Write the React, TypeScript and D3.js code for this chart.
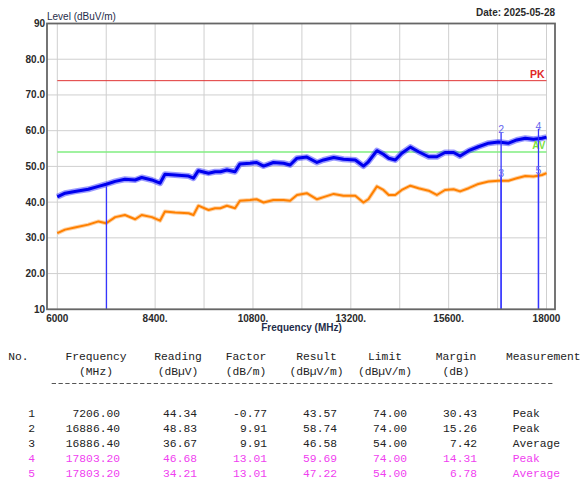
import React from 'react';
import * as d3 from 'd3';

// trace samples (MHz / dBuV/m)
const freqs = [6000, 6190, 6430, 6760, 7010, 7200, 7420, 7660, 7910, 8070, 8320, 8520, 8640, 8890, 9220, 9340, 9460, 9710, 9870, 10000,
  10160, 10360, 10480, 10730, 10890, 11060, 11300, 11550, 11710, 11880, 12120, 12370, 12530, 12780, 13020, 13310, 13510, 13630, 13840, 14000,
  14130, 14290, 14450, 14660, 14860, 15110, 15310, 15510, 15720, 15880, 16090, 16330, 16580, 16820, 17070, 17270, 17480, 17680, 17890, 18000];
const peakTrace = [41.5, 42.5, 43.0, 43.6, 44.4, 45.0, 45.8, 46.4, 46.2, 46.9, 46.2, 45.3, 47.8, 47.6, 47.3, 46.7, 48.8, 48.1, 48.5, 48.5,
  49.0, 48.5, 50.7, 50.9, 51.1, 50.1, 51.1, 50.9, 50.4, 52.3, 52.6, 51.1, 51.8, 52.5, 52.0, 51.8, 50.1, 51.3, 54.4, 53.4,
  52.3, 51.8, 53.7, 55.4, 54.1, 52.7, 52.7, 53.9, 53.9, 52.9, 54.4, 55.5, 56.5, 56.8, 56.5, 57.4, 57.9, 57.6, 57.9, 58.2];
const avgTrace = [31.3, 32.3, 32.9, 33.7, 34.6, 34.1, 35.8, 36.4, 35.2, 36.4, 35.8, 34.8, 37.4, 37.1, 36.9, 36.4, 39.0, 37.8, 38.3, 38.3,
  39.0, 38.3, 40.4, 40.6, 40.8, 39.9, 40.6, 40.6, 40.4, 42.0, 42.5, 40.8, 41.4, 42.3, 41.8, 41.8, 39.9, 40.8, 44.4, 43.4,
  42.0, 42.0, 43.4, 44.6, 43.9, 43.2, 42.0, 43.4, 43.6, 43.0, 43.9, 45.1, 45.8, 46.0, 46.0, 46.7, 47.3, 47.2, 47.6, 48.1];

const yTicks = [10, 20, 30, 40, 50, 60, 70, 80, 90];
const yTickLabels = ['10', '20.0', '30.0', '40.0', '50.0', '60.0', '70.0', '80.0', '90'];
const xGrid = [6000, 7200, 8400, 9600, 10800, 12000, 13200, 14400, 15600, 16800, 18000];
const xTicks = [6000, 8400, 10800, 13200, 15600, 18000];
const xTickLabels = ['6000', '8400.', '10800.', '13200.', '15600.', '18000'];
const pkLimit = 74;
const avLimit = 54;

// marker table
const markerNo = ['1', '2', '3', '4', '5'];
const markerFreq = [7206.0, 16886.4, 16886.4, 17803.2, 17803.2];
const reading = [44.34, 48.83, 36.67, 46.68, 34.21];
const factor = [-0.77, 9.91, 9.91, 13.01, 13.01];
const result = [43.57, 58.74, 46.58, 59.69, 47.22];
const limit = [74.0, 74.0, 54.0, 74.0, 54.0];
const margin = [30.43, 15.26, 7.42, 14.31, 6.78];
const measurement = ['Peak', 'Peak', 'Average', 'Peak', 'Average'];
const highlighted = [false, false, false, true, true];
const showLabel = [false, true, true, true, true];

const W = 582, H = 483;
const frame = { left: 47, right: 555, top: 23.5, bottom: 309.3 };

const App: React.FC = () => {
  const x = d3.scaleLinear().domain([6000, 18000]).range([57.3, 546.5]);
  const y = d3.scaleLinear().domain([10, 90]).range([frame.bottom, frame.top]);

  const line = d3.line<number>()
    .x((d, i) => x(freqs[i]))
    .y(d => y(d));

  const sans = '"Liberation Sans", Arial, sans-serif';
  const mono = '"Liberation Mono", "DejaVu Sans Mono", monospace';
  const axisColor = '#2a2a2a';

  // table layout
  const headerY1 = 359.5, headerY2 = 374.5, rowY0 = 417.3, rowStep = 15;
  const tableColor = '#222';
  const pink = '#f040f0';

  const cols = [
    { h1: 'Frequency', h2: '(MHz)', cx: 96, right: 120, vals: markerFreq.map(v => v.toFixed(2)) },
    { h1: 'Reading', h2: '(dBµV)', cx: 178, right: 197, vals: reading.map(v => v.toFixed(2)) },
    { h1: 'Factor', h2: '(dB/m)', cx: 246, right: 267, vals: factor.map(v => v.toFixed(2)) },
    { h1: 'Result', h2: '(dBµV/m)', cx: 316.5, right: 337, vals: result.map(v => v.toFixed(2)) },
    { h1: 'Limit', h2: '(dBµV/m)', cx: 385, right: 407, vals: limit.map(v => v.toFixed(2)) },
    { h1: 'Margin', h2: '(dB)', cx: 456, right: 477, vals: margin.map(v => v.toFixed(2)) },
  ];

  return (
    <svg width={W} height={H} style={{ position: 'absolute', left: 0, top: 0, background: '#fff' }}>
      {/* grid */}
      {yTicks.map(t => (
        <line key={'gy' + t} x1={frame.left} x2={x(18000)} y1={y(t)} y2={y(t)} stroke="#cfcfcf" strokeWidth={1} />
      ))}
      {xGrid.map(t => (
        <line key={'gx' + t} x1={x(t)} x2={x(t)} y1={frame.top} y2={frame.bottom} stroke="#cfcfcf" strokeWidth={1} />
      ))}

      {/* limit lines */}
      <line x1={x(6000)} x2={x(18000)} y1={y(pkLimit)} y2={y(pkLimit)} stroke="#e03535" strokeWidth={1} />
      <line x1={x(6000)} x2={x(18000)} y1={y(avLimit)} y2={y(avLimit)} stroke="#80ee80" strokeWidth={1.5} />

      {/* traces */}
      <path d={line(avgTrace) || ''} fill="none" stroke="#ff9a33" strokeWidth={4} strokeOpacity={0.45} strokeLinejoin="round" />
      <path d={line(avgTrace) || ''} fill="none" stroke="#ff8000" strokeWidth={2} strokeLinejoin="round" />
      <path d={line(peakTrace) || ''} fill="none" stroke="#2020ff" strokeWidth={6} strokeOpacity={0.45} strokeLinejoin="round" />
      <path d={line(peakTrace) || ''} fill="none" stroke="#0000ee" strokeWidth={3} strokeLinejoin="round" />

      <text x={x(18000) - 1} y={y(avLimit) - 3} textAnchor="end" fontFamily={sans} fontSize={10} fontWeight="bold" fill="#7ce040">AV</text>
      <text x={x(18000) - 2} y={y(pkLimit) - 2.5} textAnchor="end" fontFamily={sans} fontSize={10.5} fontWeight="bold" fill="#e02828">PK</text>

      {/* markers */}
      {markerFreq.map((f, i) => (
        <line key={'ml' + i} x1={x(f)} x2={x(f)} y1={y(result[i]) - 3} y2={frame.bottom} stroke="#3535ff" strokeWidth={1.3} />
      ))}
      {markerFreq.map((f, i) => showLabel[i] ? (
        <text key={'mt' + i} x={x(f)} y={y(result[i]) - 2} textAnchor="middle" fontFamily={sans} fontSize={10.5} fill="#6666ee">{markerNo[i]}</text>
      ) : null)}

      {/* frame */}
      <rect x={frame.left} y={frame.top} width={frame.right - frame.left} height={frame.bottom - frame.top} fill="none" stroke="#666" strokeWidth={1.8} />

      {/* axis labels */}
      {yTicks.map((t, i) => (
        <text key={'yl' + t} x={45} y={y(t)} dy="0.35em" textAnchor="end" fontFamily={sans} fontSize={10} fontWeight="bold" fill={axisColor}>{yTickLabels[i]}</text>
      ))}
      {xTicks.map((t, i) => (
        <text key={'xl' + t} x={x(t)} y={frame.bottom + 12.5} textAnchor="middle" fontFamily={sans} fontSize={10} fontWeight="bold" fill={axisColor}>{xTickLabels[i]}</text>
      ))}
      <text x={frame.left} y={19.5} fontFamily={sans} fontSize={10} fill="#1f2d4a">Level (dBuV/m)</text>
      <text x={frame.right} y={16} textAnchor="end" fontFamily={sans} fontSize={10} fontWeight="bold" fill={axisColor}>Date: 2025-05-28</text>
      <text x={301.5} y={330.5} textAnchor="middle" fontFamily={sans} fontSize={10} fontWeight="bold" fill="#1f2d4a">Frequency (MHz)</text>

      {/* table */}
      <g fontFamily={mono} fontSize={11.3} fill={tableColor}>
        <text x={8.3} y={headerY1}>No.</text>
        {cols.map(c => (
          <g key={c.h1}>
            <text x={c.cx} y={headerY1} textAnchor="middle">{c.h1}</text>
            <text x={c.cx} y={headerY2} textAnchor="middle">{c.h2}</text>
          </g>
        ))}
        <text x={506} y={headerY1}>Measurement</text>
        <line x1={51.7} x2={553.3} y1={383.5} y2={383.5} stroke="#555" strokeWidth={1} strokeDasharray="4.3 2.5" />
        {markerNo.map((n, i) => {
          const fill = highlighted[i] ? pink : tableColor;
          const ry = rowY0 + i * rowStep;
          return (
            <g key={'row' + n} fill={fill}>
              <text x={35} y={ry} textAnchor="end">{n}</text>
              {cols.map(c => (
                <text key={c.h1} x={c.right} y={ry} textAnchor="end">{c.vals[i]}</text>
              ))}
              <text x={512.7} y={ry}>{measurement[i]}</text>
            </g>
          );
        })}
      </g>
    </svg>
  );
};

export default App;
